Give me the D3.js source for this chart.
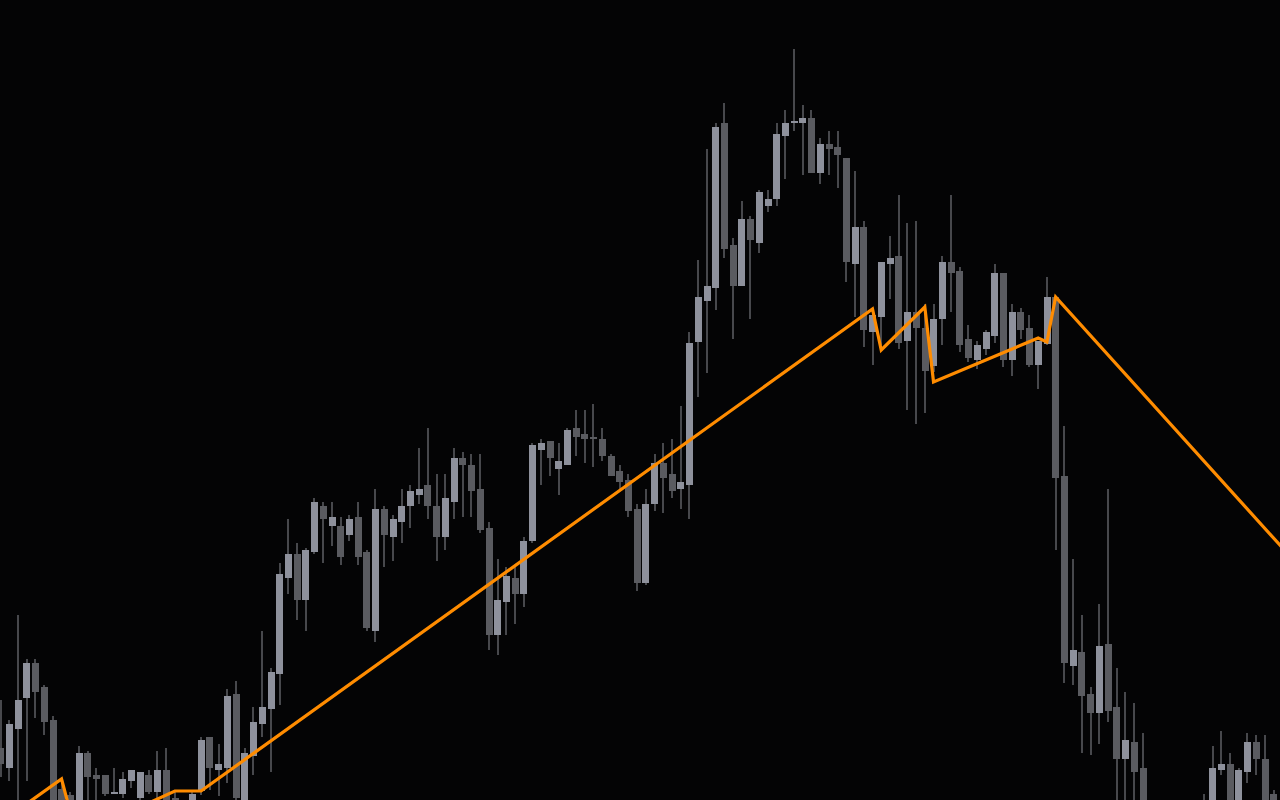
<!DOCTYPE html>
<html>
<head>
<meta charset="utf-8">
<script src="https://cdn.jsdelivr.net/npm/d3@7"></script>
<style>
  html, body { margin: 0; padding: 0; background: #040405; overflow: hidden; }
  svg { display: block; }
</style>
</head>
<body>
<svg id="chart" width="1280" height="800"></svg>
<script>
// Candle data (bar index implied by position in arrays)
const open = [105.2,103.2,107.1,110.2,113.7,111.3,108.0,101.1,100.5,99.5,104.7,102.5,102.5,100.6,100.6,101.9,100.2,102.5,100.8,103.0,
  100.2,99.0,99.4,100.9,106.3,103.0,103.2,110.6,99.5,104.4,107.6,109.1,112.6,122.2,124.6,120.0,124.8,129.4,127.4,127.4,
  126.5,128.3,124.8,116.9,129.1,126.3,127.8,129.4,130.5,131.5,129.4,126.3,129.8,134.2,133.5,131.1,127.2,116.5,119.8,122.2,
  120.6,125.9,135.0,135.9,133.1,133.5,137.2,136.6,136.3,136.1,134.4,132.9,132.0,129.1,121.7,129.6,133.7,132.6,131.1,131.5,
  145.8,149.9,151.2,167.7,155.5,151.4,158.1,155.7,159.4,160.1,166.4,167.7,167.7,168.2,162.7,165.6,165.3,164.2,153.6,157.3,
  146.8,148.3,153.6,154.4,145.9,148.8,147.2,143.4,148.1,153.8,152.9,146.1,144.0,145.1,146.4,152.7,144.0,148.8,147.2,143.5,
  145.6,150.3,132.4,113.4,114.8,110.6,108.7,115.6,109.3,104.1,105.8,103.2,98.8,96.5,98.2,96.2,97.5,99.4,98.5,99.5,
  103.0,103.6,99.5,102.8,105.8,104.1,100.6];
const high = [110.0,108.0,118.5,114.1,114.1,111.5,108.4,102.1,100.8,105.4,104.9,103.2,102.5,103.2,102.8,103.0,102.8,103.0,104.9,105.2,
  100.8,100.0,100.9,106.3,106.3,105.6,111.1,111.9,105.2,109.3,116.9,113.2,123.7,128.1,125.7,125.2,130.2,129.8,129.8,128.3,
  128.5,129.8,125.0,131.1,129.4,128.5,131.1,131.5,135.2,137.2,132.6,132.6,135.2,134.8,134.6,134.6,127.8,124.1,123.3,123.3,
  126.3,135.7,136.1,135.9,135.7,137.2,139.0,139.0,139.6,137.2,134.6,133.5,132.6,129.6,131.1,134.6,135.7,136.1,139.4,146.8,
  154.0,165.1,167.7,169.7,156.2,159.9,158.4,161.0,161.0,167.7,169.0,175.1,169.5,169.0,166.2,166.9,166.9,164.2,162.9,157.9,
  149.1,153.8,156.4,160.5,157.7,157.9,149.6,149.6,154.4,160.5,153.3,147.5,145.9,147.0,153.6,152.7,149.6,149.2,148.5,145.9,
  152.3,150.4,137.4,124.1,118.5,111.3,119.6,131.1,113.2,110.8,109.7,106.7,99.5,98.5,99.0,99.2,99.7,99.6,100.6,105.4,
  106.9,104.7,103.2,106.7,106.5,106.5,101.0];
const low = [102.3,101.9,99.0,101.9,108.2,106.5,98.8,98.5,98.8,99.0,99.8,99.7,100.4,100.6,100.2,101.2,99.3,100.6,100.2,99.2,
  99.0,98.8,99.2,100.5,101.0,100.4,101.7,100.0,99.2,102.5,106.3,102.8,109.5,120.6,118.0,116.9,124.6,123.7,125.4,123.5,
  125.9,123.5,116.9,115.8,123.3,123.9,125.7,127.2,129.6,128.1,123.9,125.0,128.1,128.3,128.3,126.7,115.0,114.5,116.5,117.6,
  119.3,125.7,131.5,132.4,130.5,133.5,134.4,133.7,133.3,133.9,132.4,131.0,128.3,120.9,121.5,128.9,128.7,130.2,129.1,128.1,
  140.3,142.7,149.0,154.2,146.1,151.4,148.1,154.7,158.8,159.4,162.1,166.9,162.5,162.7,161.6,162.5,161.2,151.8,148.3,145.3,
  143.5,145.5,150.1,145.1,139.0,137.6,138.7,142.8,145.5,148.8,144.8,143.8,143.1,144.5,145.7,143.3,142.4,146.1,143.3,141.1,
  145.5,125.0,111.7,111.5,104.7,104.5,105.6,107.8,99.5,99.5,99.5,98.5,96.0,95.5,95.0,95.5,96.8,97.8,98.0,98.8,
  102.5,98.8,99.0,101.7,102.5,99.0,98.5];
const close = [103.6,107.6,110.0,113.7,110.8,107.8,99.5,99.2,99.5,104.7,102.3,102.1,100.6,100.8,102.1,103.0,102.8,100.8,103.0,99.5,
  99.4,99.7,100.6,106.0,103.2,103.6,110.4,100.2,104.7,107.8,109.3,112.8,122.6,124.6,120.0,125.0,129.8,128.1,128.3,124.3,
  128.1,124.3,117.2,129.1,126.5,128.1,129.4,130.9,131.1,129.4,126.3,130.2,134.2,133.5,130.9,127.0,116.5,120.0,122.4,120.6,
  125.9,135.5,135.7,134.2,133.9,137.0,136.3,136.1,136.1,134.4,132.4,131.8,128.9,121.7,129.6,133.7,132.2,130.9,131.8,145.7,
  150.3,151.4,167.3,155.1,151.4,158.1,156.0,160.8,160.1,166.6,167.7,167.9,168.2,162.7,165.6,165.1,164.5,153.8,157.3,147.0,
  148.5,153.8,154.2,145.7,148.8,147.2,142.9,148.1,153.8,152.7,145.5,144.2,145.5,146.8,152.7,144.0,148.8,147.0,143.5,145.9,
  150.3,132.2,113.7,115.0,110.4,108.7,115.4,108.9,104.1,106.0,102.8,99.0,97.0,98.0,96.0,98.5,99.4,98.2,99.8,103.2,
  103.6,99.2,103.0,105.8,104.1,99.5,99.2];

// Zigzag pivots: bar index and price
const zigIndex = [2, 7, 8, 16, 20, 23, 100, 101, 106, 107, 119, 120, 121, 152];
const zigPrice = [99.0, 102.1, 98.8, 99.3, 100.9, 100.9, 149.1, 145.0, 149.3, 141.8, 146.2, 145.8, 150.3, 120.4];

const priceDomain = [100, 180];

const W = 1280, H = 800;
const candles = open.map((o, i) => ({ i, o, h: high[i], l: low[i], c: close[i] }));

const x = d3.scaleLinear().domain([0, 146]).range([0.5, 0.5 + 146 * 8.72]);
const y = d3.scaleLinear().domain(priceDomain).range([H, 0]);

const svg = d3.select("#chart");
svg.append("rect").attr("width", W).attr("height", H).attr("fill", "#040405");

const bodyW = 6.6;
const g = svg.append("g").attr("shape-rendering", "crispEdges");

g.selectAll("line.wick").data(candles).join("line")
  .attr("class", "wick")
  .attr("x1", d => Math.round(x(d.i)))
  .attr("x2", d => Math.round(x(d.i)))
  .attr("y1", d => y(d.h))
  .attr("y2", d => y(d.l))
  .attr("stroke", "#47484c")
  .attr("stroke-width", 2);

g.selectAll("rect.body").data(candles).join("rect")
  .attr("class", "body")
  .attr("x", d => Math.round(x(d.i) - bodyW / 2))
  .attr("width", Math.round(bodyW))
  .attr("y", d => y(Math.max(d.o, d.c)))
  .attr("height", d => Math.max(1.5, Math.abs(y(d.o) - y(d.c))))
  .attr("fill", d => d.c >= d.o ? "#8e919c" : "#5a5b60");

const zz = zigIndex.map((v, k) => [v, zigPrice[k]]);
svg.append("path")
  .datum(zz)
  .attr("d", d3.line().x(d => x(d[0])).y(d => y(d[1])))
  .attr("fill", "none")
  .attr("stroke", "#ff8c00")
  .attr("stroke-width", 3.2)
  .attr("stroke-linejoin", "miter");
</script>
</body>
</html>
